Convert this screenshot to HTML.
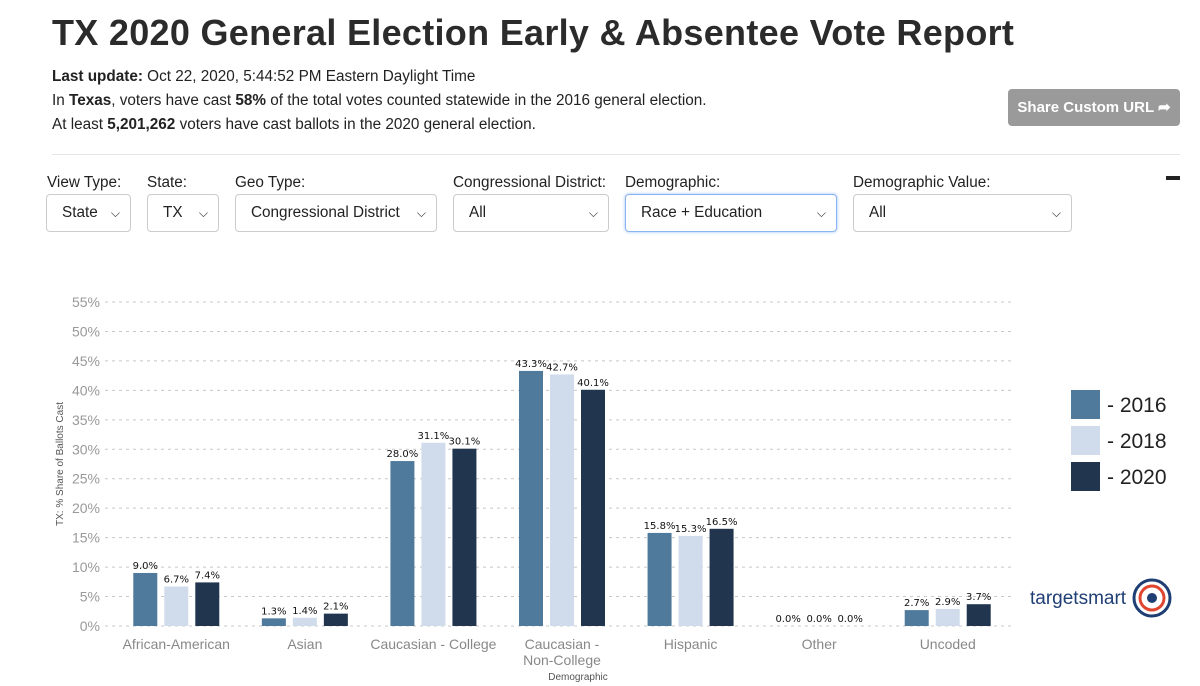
<!DOCTYPE html>
<html><head><meta charset="utf-8"><style>
body{margin:0;width:1200px;height:686px;background:#fff;font-family:"Liberation Sans",sans-serif;color:#222;position:relative;overflow:hidden}
.abs{position:absolute}
h1{position:absolute;left:52px;top:12px;margin:0;font-size:36px;font-weight:bold;color:#2b2b2b;white-space:nowrap;letter-spacing:0.3px}
.info{left:52px;font-size:15.3px;white-space:nowrap}
.lbl{font-size:15.3px;top:174px;white-space:nowrap}
.sel{top:194px;height:38px;border:1px solid #ccc;border-radius:4px;box-sizing:border-box;font-size:15.3px;line-height:36px;padding-left:15px;background:#fff;white-space:nowrap}
.sel span.ch{position:absolute;right:10px;top:0;font-size:12px}
</style></head><body>
<h1>TX 2020 General Election Early &amp; Absentee Vote Report</h1>
<div class="abs info" style="top:68px"><b>Last update:</b> Oct 22, 2020, 5:44:52 PM Eastern Daylight Time</div>
<div class="abs info" style="top:92px">In <b>Texas</b>, voters have cast <b>58%</b> of the total votes counted statewide in the 2016 general election.</div>
<div class="abs info" style="top:116px">At least <b>5,201,262</b> voters have cast ballots in the 2020 general election.</div>
<div class="abs" style="left:1008px;top:89px;width:172px;height:37px;background:#9a9a9a;border-radius:4px;color:#fff;font-weight:bold;font-size:15px;line-height:37px;text-align:center">Share Custom URL ➦</div>
<div class="abs" style="left:52px;top:154px;width:1128px;height:1px;background:#e6e6e6"></div>
<div class="abs" style="left:1166px;top:176px;width:14px;height:4px;background:#222"></div>

<div class="abs lbl" style="left:47px">View Type:</div>
<div class="abs sel" style="left:46px;width:85px">State<span class="ch">⌵</span></div>
<div class="abs lbl" style="left:147px">State:</div>
<div class="abs sel" style="left:147px;width:72px">TX<span class="ch">⌵</span></div>
<div class="abs lbl" style="left:235px">Geo Type:</div>
<div class="abs sel" style="left:235px;width:202px">Congressional District<span class="ch">⌵</span></div>
<div class="abs lbl" style="left:453px">Congressional District:</div>
<div class="abs sel" style="left:453px;width:156px">All<span class="ch">⌵</span></div>
<div class="abs lbl" style="left:625px">Demographic:</div>
<div class="abs sel" style="left:625px;width:212px;border-color:#8ab4f0;box-shadow:0 0 3px #9cc0f5">Race + Education<span class="ch">⌵</span></div>
<div class="abs lbl" style="left:853px">Demographic Value:</div>
<div class="abs sel" style="left:853px;width:219px">All<span class="ch">⌵</span></div>

<svg class="abs" style="left:0;top:0" width="1200" height="686" id="chart"></svg>

<div class="abs" style="left:1030px;top:588px;font-family:'Liberation Sans',sans-serif;font-size:19px;color:#1f3e74">targetsmart</div>
<svg class="abs" style="left:1132px;top:578px" width="40" height="40">
<circle cx="20" cy="20" r="18" fill="none" stroke="#1f3e74" stroke-width="3"/>
<circle cx="20" cy="20" r="12" fill="none" stroke="#e0462f" stroke-width="3"/>
<circle cx="20" cy="20" r="5" fill="#1f3e74"/></svg>

<script>
const categories=["African-American","Asian","Caucasian - College","Caucasian - Non-College","Hispanic","Other","Uncoded"];
const v2016=[9.0,1.3,28.0,43.3,15.8,0.0,2.7];
const v2018=[6.7,1.4,31.1,42.7,15.3,0.0,2.9];
const v2020=[7.4,2.1,30.1,40.1,16.5,0.0,3.7];
const yTicks=[0,5,10,15,20,25,30,35,40,45,50,55];
const seriesNames=["2016","2018","2020"];
const colors=["#4f7a9c","#d0dcec","#22354f"];
const NS="http://www.w3.org/2000/svg";
const svg=document.getElementById('chart');
const x0=112,x1=1012,y0=626,yTop=302,yMax=55;
const y=v=>y0-(v/yMax)*(y0-yTop);
const band=(x1-x0)/categories.length;
const cx=i=>x0+band*(i+0.5);
function mk(t,a,txt){const e=document.createElementNS(NS,t);for(const k in a)e.setAttribute(k,a[k]);if(txt!==undefined)e.textContent=txt;svg.appendChild(e);return e;}
yTicks.forEach(t=>{
 const g=mk('line',{x1:105,x2:x1,y1:y(t),y2:y(t),stroke:'#c8c8c8','stroke-dasharray':'3,4'});
 
 
 const l=mk('text',{x:100,y:y(t)+5,'text-anchor':'end','font-size':14,fill:'#999','font-family':'Liberation Sans,sans-serif'},t+'%');
 
 
});
const yt=mk('text',{transform:'translate(63,464) rotate(-90)','text-anchor':'middle','font-size':10,fill:'#555','font-family':'Liberation Sans,sans-serif'},'TX: % Share of Ballots Cast');


const series=[v2016,v2018,v2020];
const bw=24,step=31;
categories.forEach((c,i)=>{
 series.forEach((s,j)=>{
  const bx=cx(i)+(j-1)*step-bw/2;
  const r=mk('rect',{x:bx,y:y(s[i]),width:bw,height:y0-y(s[i]),fill:colors[j]});
  
  
  const t=mk('text',{x:bx+bw/2,y:y(s[i])-4,'text-anchor':'middle','font-size':10,fill:'#111','font-family':'DejaVu Sans,sans-serif'},s[i].toFixed(1)+'%');
  
  
 });
 const parts=c==="Caucasian - Non-College"?["Caucasian -","Non-College"]:[c];
 parts.forEach((p,k)=>{
  const t=mk('text',{x:cx(i),y:649+k*16,'text-anchor':'middle','font-size':14,fill:'#888','font-family':'Liberation Sans,sans-serif'},p);
  
  
 });
});
const xt=mk('text',{x:578,y:680,'text-anchor':'middle','font-size':10,fill:'#555','font-family':'Liberation Sans,sans-serif'},'Demographic');


seriesNames.forEach((n,j)=>{
 const r=mk('rect',{x:1071,y:390+j*36,width:29,height:29,fill:colors[j]});
 
 
 const t=mk('text',{x:1107,y:412+j*36,'font-size':21,fill:'#222','font-family':'Liberation Sans,sans-serif'},'- '+n);
 
 
});
</script>
</body></html>
